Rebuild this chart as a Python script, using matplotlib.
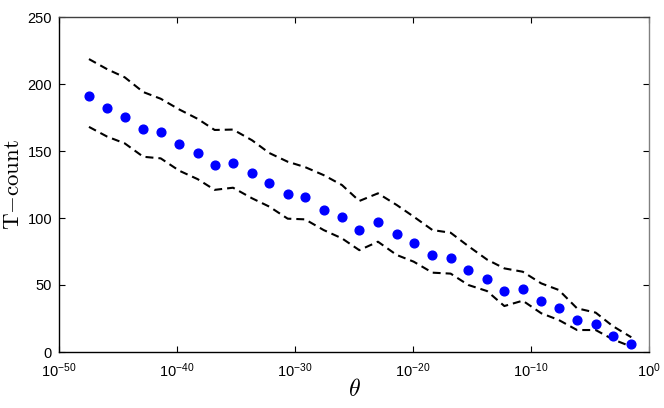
import numpy as np
import matplotlib
matplotlib.use('Agg')
import matplotlib.pyplot as plt
from matplotlib.ticker import FixedLocator, FuncFormatter, NullLocator

plt.rcParams['font.family'] = ['Liberation Sans', 'DejaVu Sans']
plt.rcParams['mathtext.fontset'] = 'cm'

# exponents of theta (log10)
theta_exp = [-47.46, -45.91, -44.43, -42.86, -41.38, -39.81, -38.25, -36.81,
             -35.25, -33.64, -32.18, -30.62, -29.15, -27.57, -26.02, -24.55,
             -22.97, -21.38, -19.94, -18.35, -16.81, -15.31, -13.73, -12.26,
             -10.70, -9.13, -7.65, -6.10, -4.52, -3.08, -1.50]

tcount = [191, 182, 175.4, 166.6, 164.2, 155.2, 148.7, 139.8, 141.3, 133.3,
          125.9, 118.1, 115.4, 105.7, 100.7, 91, 96.8, 87.8, 81.3, 72.4,
          70.1, 61, 54.5, 45.7, 47.3, 38.3, 32.6, 23.6, 21.1, 11.7, 5.7]

upper = [218.6, 211, 205, 194, 189, 181, 174, 165.7, 166, 158,
         148.5, 142, 138, 132, 124.6, 112.7, 118.4, 109.7, 101, 91,
         89, 79, 69, 62.4, 59.9, 51.2, 46.3, 32.6, 29.4, 19.4, 11]

lower = [168, 160.7, 155.7, 145.7, 144.5, 135.3, 129, 121, 122.6, 114.7,
         108.5, 99.5, 99, 91, 84.8, 76, 82.3, 72.4, 67.4, 59.2,
         58.5, 50, 45.5, 34.3, 38.3, 28.9, 23.9, 16.4, 16.4, 9.5, 4]

xtick_exp = [-50, -40, -30, -20, -10, 0]
yticks = [0, 50, 100, 150, 200, 250]

theta = 10.0 ** np.array(theta_exp)

fig = plt.figure(figsize=(6.64, 4.08), dpi=100)
ax = fig.add_axes([59/664, 1 - 352/408, 590/664, 335/408])

dash = (0, (3.8, 2.4))
ax.plot(theta, upper, color='k', lw=1.5, ls=dash)
ax.plot(theta, lower, color='k', lw=1.5, ls=dash)
ax.plot(theta, tcount, 'o', color='#0000ff', markersize=6.3, mec='#0000ff')

ax.set_xscale('log')
ax.set_xlim(1e-50, 1e0)
ax.set_ylim(0, 250)
ax.xaxis.set_major_locator(FixedLocator([10.0 ** e for e in xtick_exp]))
ax.xaxis.set_minor_locator(NullLocator())
ax.xaxis.set_major_formatter(FuncFormatter(
    lambda v, p: r'$\mathregular{10^{%d}}$' % round(np.log10(v))))
ax.set_yticks(yticks)

ax.tick_params(direction='in', length=4.5, width=0.8, labelsize=10.5,
               top=True, right=True, pad=5)
ax.tick_params(axis='x', pad=7)

ax.spines['left'].set_color('k')
ax.spines['bottom'].set_color('k')
ax.spines['top'].set_color('#404040')
ax.spines['right'].set_color('#808080')
for s in ax.spines.values():
    s.set_linewidth(1.0)

ax.set_xlabel(r'$\theta$', fontsize=17)
ax.set_ylabel(r'$\mathrm{T{-}count}$', fontsize=16.5)
ax.xaxis.set_label_coords(0.5, -0.082)
ax.yaxis.set_label_coords(-0.06, 0.5)

fig.savefig('out.png', dpi=100)
